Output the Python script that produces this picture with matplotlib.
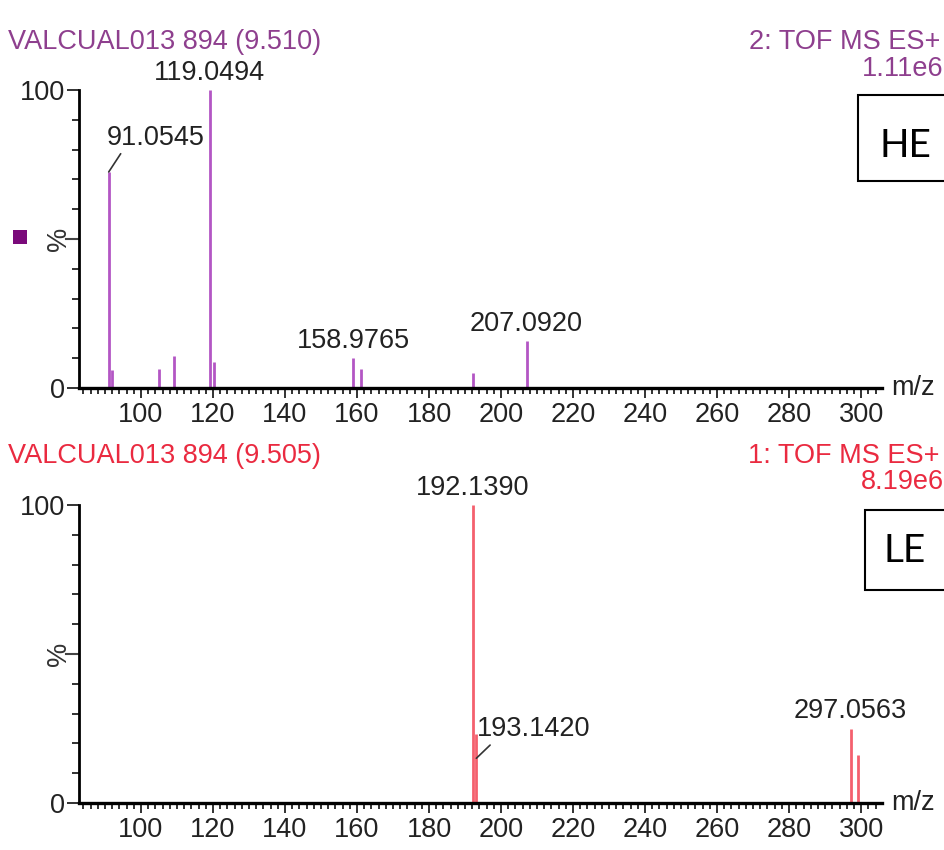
import numpy as np
import matplotlib.pyplot as plt
from matplotlib.patches import Rectangle
from matplotlib.ticker import MultipleLocator

plt.rcParams['font.family'] = ['Liberation Sans', 'DejaVu Sans']

# HE spectrum (function 2)
he_mz = [91.0545, 92.06, 105.07, 109.3, 119.0494, 120.3, 158.9765, 160.98, 192.14, 207.0920]
he_int = [72.5, 6, 6.5, 10.7, 100, 8.7, 10, 6.4, 5, 15.8]
he_labels = {91.0545: "91.0545", 119.0494: "119.0494", 158.9765: "158.9765", 207.0920: "207.0920"}

# LE spectrum (function 1)
le_mz = [192.1390, 193.1420, 297.0563, 299.05]
le_int = [100, 23, 25, 16]
le_labels = {192.1390: "192.1390", 297.0563: "297.0563"}

xmin, xmax = 82.8, 305.8
xticks = [100, 120, 140, 160, 180, 200, 220, 240, 260, 280, 300]

purple_bar = "#b356c4"
purple_txt = "#8e3f8e"
red_bar = "#f4606e"
red_txt = "#ea2a40"
fs = 19.5

fig = plt.figure(figsize=(9.44, 8.5), dpi=100)
W, H = 944, 850

def px(x, y):
    return x / W, 1 - y / H

def setup(ax):
    ax.set_xlim(xmin, xmax)
    ax.set_ylim(0, 100)
    for s in ["top", "right"]:
        ax.spines[s].set_visible(False)
    ax.spines["left"].set_linewidth(2)
    ax.spines["bottom"].set_linewidth(2.4)
    ax.set_xticks(xticks)
    ax.xaxis.set_minor_locator(MultipleLocator(2))
    ax.tick_params(axis="x", which="major", length=7, width=1.3, labelsize=fs, colors="#222", pad=3)
    ax.tick_params(axis="x", which="minor", length=4, width=1.3, colors="#222")
    ax.set_yticks([0, 100])
    ax.yaxis.set_minor_locator(MultipleLocator(10))
    ax.tick_params(axis="y", which="major", length=9, width=1.3, labelsize=fs, colors="#222", pad=1)
    ax.tick_params(axis="y", which="minor", length=5, width=1.3, colors="#222")
    ax.set_facecolor("white")
    ax.text(1.012, 0.0, "m/z", transform=ax.transAxes, fontsize=fs, color="#222",
            ha="left", va="center")
    ax.text(-0.025, 0.5, "%", transform=ax.transAxes, fontsize=fs, color="#333",
            rotation=90, ha="center", va="center")
    ax.plot([-0.016, 0], [0.5, 0.5], transform=ax.transAxes, color="#444", lw=1.5, clip_on=False)

# top panel
ax1 = fig.add_axes([79 / W, 1 - 388 / H, (882 - 79) / W, 298 / H])
setup(ax1)
ax1.vlines(he_mz, 0, he_int, color=purple_bar, lw=2)
for m, h in zip(he_mz, he_int):
    if m in he_labels and m != 91.0545:
        ax1.annotate(he_labels[m], (m, h), xytext=(0, 4), textcoords="offset pixels",
                     ha="center", va="bottom", fontsize=fs, color="#222")
ax1.annotate(he_labels[91.0545], (91.0545, 72.5), xytext=(-2, 21), textcoords="offset pixels",
             ha="left", va="bottom", fontsize=fs, color="#222",
             arrowprops=dict(arrowstyle="-", color="#333", lw=1.2, shrinkA=0, shrinkB=0,
                             relpos=(0.17, 0.05)))

# bottom panel
ax2 = fig.add_axes([79 / W, 1 - 803 / H, (882 - 79) / W, 298 / H])
setup(ax2)
ax2.vlines(le_mz, 0, le_int, color=red_bar, lw=2)
for m, h in zip(le_mz, le_int):
    if m in le_labels:
        ax2.annotate(le_labels[m], (m, h), xytext=(0, 4), textcoords="offset pixels",
                     ha="center", va="bottom", fontsize=fs, color="#222")
ax2.annotate("193.1420", (193.142, 15), xytext=(1, 16), textcoords="offset pixels",
             ha="left", va="bottom", fontsize=fs, color="#222",
             arrowprops=dict(arrowstyle="-", color="#333", lw=1.2, shrinkA=0, shrinkB=0,
                             relpos=(0.15, 0.05)))

# headers
fig.text(*px(8, 42), "VALCUAL013 894 (9.510)", fontsize=fs, color=purple_txt, ha="left", va="center")
fig.text(*px(940, 42), "2: TOF MS ES+", fontsize=fs, color=purple_txt, ha="right", va="center")
fig.text(*px(944, 69), "1.11e6", fontsize=fs, color=purple_txt, ha="right", va="center")
fig.text(*px(8, 456), "VALCUAL013 894 (9.505)", fontsize=fs, color=red_txt, ha="left", va="center")
fig.text(*px(940, 456), "1: TOF MS ES+", fontsize=fs, color=red_txt, ha="right", va="center")
fig.text(*px(944, 482), "8.19e6", fontsize=fs, color=red_txt, ha="right", va="center")

# purple marker square
fig.add_artist(Rectangle(px(13, 244), 14 / W, 14 / H, transform=fig.transFigure,
                         facecolor="#7a0a7a", edgecolor="none"))

# HE / LE boxes
fig.add_artist(Rectangle(px(858, 181), 100 / W, 86 / H, transform=fig.transFigure,
                         facecolor="white", edgecolor="black", lw=1.5, clip_on=False))
fig.text(*px(905, 146), "HE", fontsize=28, family=["Lato", "DejaVu Sans"], ha="center", va="center")
fig.add_artist(Rectangle(px(865, 590), 100 / W, 80 / H, transform=fig.transFigure,
                         facecolor="white", edgecolor="black", lw=1.5, clip_on=False))
fig.text(*px(905, 551), "LE", fontsize=28, family=["Lato", "DejaVu Sans"], ha="center", va="center")

plt.savefig("out.png", dpi=100, facecolor="white")
